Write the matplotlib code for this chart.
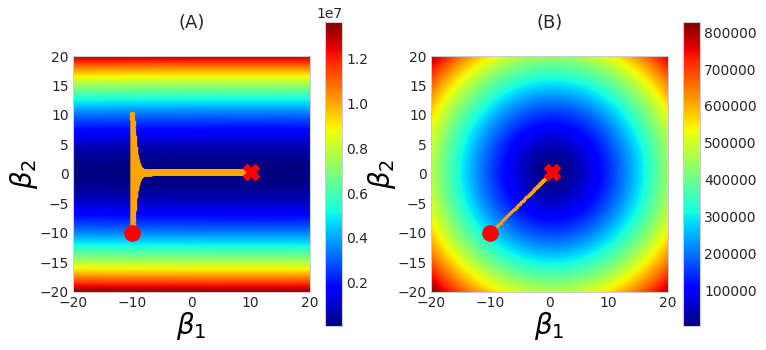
import numpy as np
import matplotlib.pyplot as plt

# grid and ticks of the two loss surfaces
beta_lim = [-20, 20]
x_ticks = [-20, -10, 0, 10, 20]
y_ticks = [-20, -15, -10, -5, 0, 5, 10, 15, 20]
titles = ["(A)", "(B)"]

# starting point (red dot) and minimum (red cross)
start = [-10.0, -10.0]
min_a = [10.0, 0.25]
min_b = [0.5, 0.4]

# loss: floor, scale, weight of beta1, weight of beta2, power
loss_a = [7.0e4, 32900.0, 0.003, 1.0, 2.0]
loss_b = [5.0e3, 3780.0, 1.0, 1.0, 1.6]

# gradient descent: contraction per step in each direction, number of steps
rate_a = [0.99919, -0.965]
rate_b = [0.955, 0.955]
steps_a = 4000
steps_b = 80

plt.rcParams['text.color'] = '#262626'
plt.rcParams['xtick.color'] = '#262626'
plt.rcParams['ytick.color'] = '#262626'
plt.rcParams['font.size'] = 10


def surface(loss, centre):
    b = np.linspace(beta_lim[0], beta_lim[1], 400)
    b1, b2 = np.meshgrid(b, b)
    d2 = loss[2] * (b1 - centre[0])**2 + loss[3] * (b2 - centre[1])**2
    return loss[0] + loss[1] * d2**(loss[4] / 2)


def descent(centre, rate, n):
    k = np.arange(n + 1)
    p1 = centre[0] + (start[0] - centre[0]) * rate[0]**k
    p2 = centre[1] + (start[1] - centre[1]) * rate[1]**k
    return p1, p2


def panel(ax, cax, z, path, centre, title, lw, ms):
    im = ax.imshow(z, cmap='jet', origin='lower', aspect='auto',
                   extent=[beta_lim[0], beta_lim[1], beta_lim[0], beta_lim[1]])
    ax.plot(path[0], path[1], '-o', color='orange', lw=lw, ms=ms, mew=0, zorder=3)
    ax.plot(start[0], start[1], 'o', color='red', ms=11, zorder=4)
    ax.plot(centre[0], centre[1], 'X', color='red', ms=12, zorder=4)
    ax.set_xticks(x_ticks)
    ax.set_yticks(y_ticks)
    ax.set_xlim(beta_lim)
    ax.set_ylim(beta_lim)
    ax.tick_params(length=0, pad=3)
    for s in ax.spines.values():
        s.set_color('#cccccc')
    ax.set_xlabel(r'$\beta_1$', fontsize=20, labelpad=0)
    ax.set_ylabel(r'$\beta_2$', fontsize=20, labelpad=0)
    ax.set_title(title, fontsize=13, pad=20)
    cb = plt.colorbar(im, cax=cax)
    cb.outline.set_edgecolor('#cccccc')
    cb.ax.tick_params(length=0, pad=3)
    return cb


fig = plt.figure(figsize=(7.66, 3.5), dpi=100)
ax1 = fig.add_axes([0.0953, 0.166, 0.309, 0.674])
cax1 = fig.add_axes([0.424, 0.069, 0.023, 0.869])
ax2 = fig.add_axes([0.5627, 0.166, 0.309, 0.674])
cax2 = fig.add_axes([0.892, 0.069, 0.022, 0.869])

panel(ax1, cax1, surface(loss_a, min_a), descent(min_a, rate_a, steps_a),
      min_a, titles[0], 2.2, 4)
panel(ax2, cax2, surface(loss_b, min_b), descent(min_b, rate_b, steps_b),
      min_b, titles[1], 1.2, 2.5)

plt.savefig('out.png', dpi=100)
